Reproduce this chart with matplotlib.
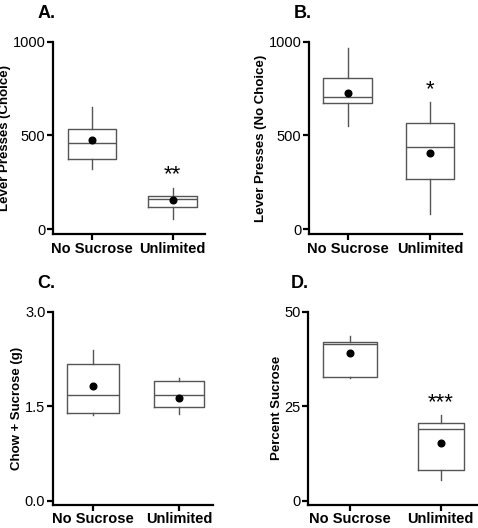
import matplotlib
matplotlib.use('Agg')
import matplotlib.pyplot as plt

plt.rcParams['font.family'] = ['Liberation Sans', 'DejaVu Sans']

groups = ['No Sucrose', 'Unlimited']

# box stats: whisker low, q1, median, q3, whisker high, mean
choice_stats = [(320, 373, 458, 533, 650, 474), (55, 121, 160, 178, 222, 155)]
nochoice_stats = [(551, 671, 707, 805, 968, 728), (82, 266, 437, 565, 680, 407)]
chow_stats = [(1.36, 1.39, 1.68, 2.17, 2.40, 1.82), (1.38, 1.48, 1.68, 1.90, 1.95, 1.635)]
pct_stats = [(32.5, 32.7, 41.4, 42.0, 43.7, 39.1), (5.6, 8.0, 19.1, 20.6, 22.7, 15.3)]

W, H = 478, 528
fig = plt.figure(figsize=(W / 100, H / 100), dpi=100)


def make_ax(L, R, T, B):
    return fig.add_axes([L / W, (H - B) / H, (R - L) / W, (B - T) / H])


def panel(ax, stats, widths, ylim, yticks, yticklabels, ylabel, xlim, letter, star=None):
    bxp_stats = []
    for name, s in zip(groups, stats):
        bxp_stats.append(dict(label=name, whislo=s[0], q1=s[1], med=s[2],
                              q3=s[3], whishi=s[4], mean=s[5]))
    ax.bxp(bxp_stats, positions=[1, 2], widths=widths, showcaps=False,
           showfliers=False, showmeans=True,
           boxprops=dict(color='#555555', linewidth=1.0),
           whiskerprops=dict(color='#555555', linewidth=1.0),
           medianprops=dict(color='#555555', linewidth=1.0),
           meanprops=dict(marker='o', markerfacecolor='black',
                          markeredgecolor='black', markersize=4.8))
    ax.set_xlim(*xlim)
    ax.set_ylim(*ylim)
    ax.set_yticks(yticks)
    ax.set_yticklabels(yticklabels)
    ax.set_xticks([1, 2])
    ax.set_xticklabels(groups, fontweight='bold', fontsize=10.5)
    ax.spines['top'].set_visible(False)
    ax.spines['right'].set_visible(False)
    for sp in ['left', 'bottom']:
        ax.spines[sp].set_linewidth(1.6)
    ax.tick_params(direction='out', length=4, width=1.6, labelsize=10.5, pad=1.5)
    ax.set_ylabel(ylabel, fontweight='bold', fontsize=9.5, labelpad=1)
    ax.text(-0.1, 1.1, letter, transform=ax.transAxes, fontsize=13,
            fontweight='bold', ha='left', va='bottom')
    if star is not None:
        ax.text(2, star[1], star[0], ha='center', va='center', fontsize=16)


axA = make_ax(53, 205, 41.7, 234.3)
panel(axA, choice_stats, [0.6, 0.6], (-27, 1000), [0, 500, 1000], ['0', '500', '1000'],
      'Lever Presses (Choice)', (0.52, 2.40), 'A.', ('**', 293))

axB = make_ax(309, 462, 41.7, 234.3)
panel(axB, nochoice_stats, [0.59, 0.59], (-27, 1000), [0, 500, 1000], ['0', '500', '1000'],
      'Lever Presses (No Choice)', (0.53, 2.39), 'B.', ('*', 742))

axC = make_ax(53, 213, 311.7, 504.7)
panel(axC, chow_stats, [0.6, 0.59], (-0.063, 3.0), [0, 1.5, 3.0], ['0.0', '1.5', '3.0'],
      'Chow + Sucrose (g)', (0.535, 2.395), 'C.')

axD = make_ax(308, 477, 311.7, 504.7)
panel(axD, pct_stats, [0.6, 0.51], (-1.05, 50), [0, 25, 50], ['0', '25', '50'],
      'Percent Sucrose', (0.533, 2.40), 'D.', ('***', 26.0))

fig.savefig('out.png', dpi=100)
